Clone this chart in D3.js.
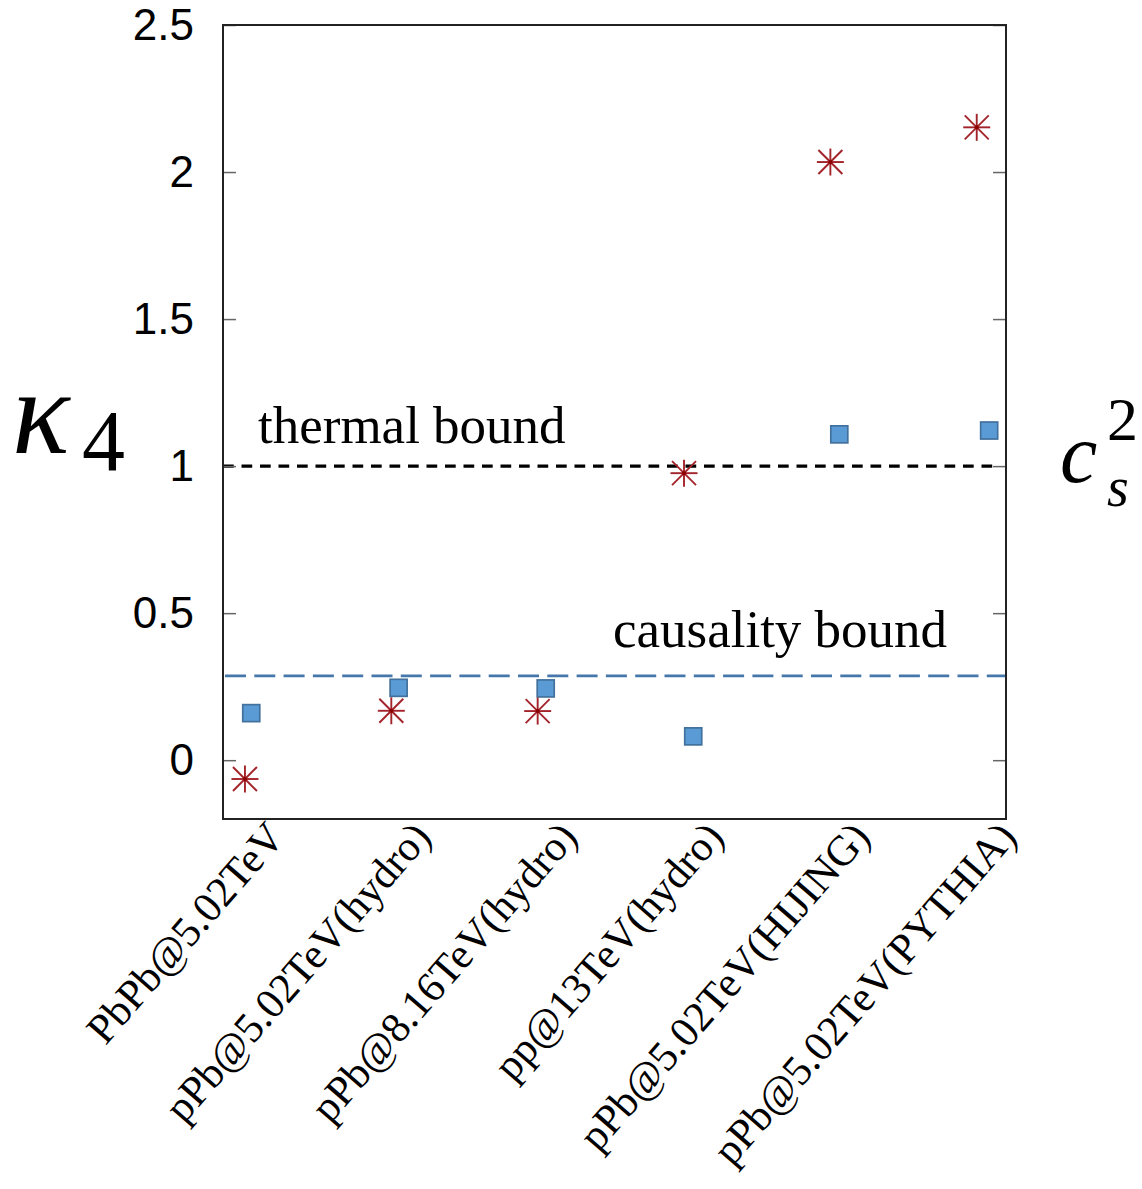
<!DOCTYPE html>
<html>
<head>
<meta charset="utf-8">
<script src="https://cdn.jsdelivr.net/npm/d3@7"></script>
<style>
  body { margin: 0; background: #fff; }
  svg { display: block; }
</style>
</head>
<body>
<svg width="1142" height="1189"></svg>
<script>
// data
const categories = [
  'PbPb@5.02TeV',
  'pPb@5.02TeV(hydro)',
  'pPb@8.16TeV(hydro)',
  'pp@13TeV(hydro)',
  'pPb@5.02TeV(HIJING)',
  'pPb@5.02TeV(PYTHIA)'
];
const kappa4 = [-0.064, 0.168, 0.167, 0.976, 2.034, 2.152];   // red stars
const cs2 = [0.160, 0.246, 0.244, 0.081, 1.108, 1.121];       // blue squares
const cs2Pos = [0.043, 1.050, 2.055, 3.063, 4.061, 5.085];    // squares sit a bit to the right
const yTicks = [0, 0.5, 1, 1.5, 2, 2.5];
const thermalBound = 1;
const causalityBound = 0.287;

const svg = d3.select('svg');

const pLeft = 223, pRight = 1006, pTop = 25, pBottom = 819;

const x = d3.scaleLinear().domain([-0.15, 5.2]).range([pLeft, pRight]);
const y = d3.scaleLinear().domain([-0.2, 2.5]).range([pBottom, pTop]);

// bound lines
svg.append('line')
  .attr('x1', pLeft).attr('x2', pRight - 13)
  .attr('y1', y(thermalBound)).attr('y2', y(thermalBound))
  .attr('stroke', '#000').attr('stroke-width', 3.2)
  .attr('stroke-dasharray', '10.7,7.8');

svg.append('line')
  .attr('x1', pLeft + 2).attr('x2', pRight)
  .attr('y1', y(causalityBound)).attr('y2', y(causalityBound))
  .attr('stroke', '#4677aa').attr('stroke-width', 2.7)
  .attr('stroke-dasharray', '21,8.3');

// axes: ticks point inward, labels only on the left
const yLeft = svg.append('g')
  .attr('transform', `translate(${pLeft},0)`)
  .call(d3.axisLeft(y).tickValues(yTicks).tickSize(-13).tickPadding(29).tickFormat(d3.format('')));
yLeft.select('.domain').remove();
yLeft.selectAll('line').attr('stroke', '#666').attr('stroke-width', 1.5);
yLeft.selectAll('text')
  .attr('font-family', '"Liberation Sans", Arial, sans-serif')
  .attr('font-size', 44)
  .attr('fill', '#000');

const yRight = svg.append('g')
  .attr('transform', `translate(${pRight},0)`)
  .call(d3.axisRight(y).tickValues(yTicks).tickSize(-13).tickFormat(''));
yRight.select('.domain').remove();
yRight.selectAll('line').attr('stroke', '#666').attr('stroke-width', 1.5);

const xAxis = svg.append('g')
  .attr('transform', `translate(0,${pBottom})`)
  .call(d3.axisBottom(x).tickValues(d3.range(categories.length)).tickSize(0).tickFormat(i => categories[i]));
xAxis.select('.domain').remove();
xAxis.selectAll('text')
  .attr('font-family', '"Liberation Serif", "Times New Roman", serif')
  .attr('font-size', 42.5)
  .attr('fill', '#000')
  .attr('text-anchor', 'end')
  .attr('dy', 0)
  .attr('y', 0)
  .attr('transform', 'translate(41,19) rotate(-49)');

// frame
svg.append('rect')
  .attr('x', pLeft).attr('y', pTop)
  .attr('width', pRight - pLeft).attr('height', pBottom - pTop)
  .attr('fill', 'none').attr('stroke', '#222').attr('stroke-width', 2);

// blue squares
const sq = 17;
svg.append('g').selectAll('rect')
  .data(cs2)
  .join('rect')
    .attr('x', (d, i) => x(cs2Pos[i]) - sq / 2)
    .attr('y', d => y(d) - sq / 2)
    .attr('width', sq).attr('height', sq)
    .attr('fill', '#5b9bd5')
    .attr('stroke', '#41719c')
    .attr('stroke-width', 1.7);

// red asterisks
const r = 13.5, rd = 12;
const star = svg.append('g').selectAll('g')
  .data(kappa4)
  .join('g')
    .attr('transform', (d, i) => `translate(${x(i)},${y(d)})`);
const arms = [[-r, 0, r, 0], [0, -r, 0, r], [-rd, -rd, rd, rd], [-rd, rd, rd, -rd]];
arms.forEach(a => {
  star.append('line')
    .attr('x1', a[0]).attr('y1', a[1]).attr('x2', a[2]).attr('y2', a[3])
    .attr('stroke', '#a3232a').attr('stroke-width', 1.9);
});
star.append('circle').attr('r', 2).attr('fill', '#8b0000');

// annotations
const serif = '"Liberation Serif", "Times New Roman", serif';
svg.append('text')
  .attr('x', 258).attr('y', 443)
  .attr('font-family', serif).attr('font-size', 53)
  .text('thermal bound');
svg.append('text')
  .attr('x', 613).attr('y', 647)
  .attr('font-family', serif).attr('font-size', 53)
  .text('causality bound');

// left axis title: kappa_4
const kap = svg.append('text')
  .attr('font-family', serif);
kap.append('tspan')
  .attr('x', 12).attr('y', 453)
  .attr('font-style', 'italic').attr('font-size', 120)
  .text('κ');
kap.append('tspan')
  .attr('x', 82).attr('y', 470)
  .attr('font-size', 86)
  .text('4');

// right axis title: c_s^2
svg.append('text')
  .attr('x', 1060).attr('y', 482)
  .attr('font-family', serif)
  .attr('font-style', 'italic').attr('font-size', 84)
  .text('c');
svg.append('text')
  .attr('x', 1107).attr('y', 506)
  .attr('font-family', serif)
  .attr('font-style', 'italic').attr('font-size', 56)
  .text('s');
svg.append('text')
  .attr('x', 1107).attr('y', 440)
  .attr('font-family', serif)
  .attr('font-size', 62)
  .text('2');
</script>
</body>
</html>
